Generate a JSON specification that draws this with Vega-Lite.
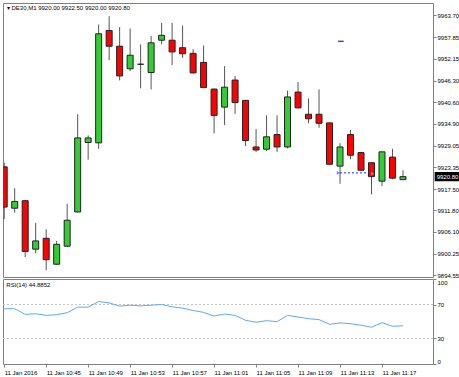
{
  "$schema": "https://vega.github.io/schema/vega-lite/v6.json",
  "padding": {"left": 1, "top": 2, "right": 0, "bottom": 0},
  "background": "#ffffff",
  "spacing": 2,
  "bounds": "flush",
  "config": {
    "view": {"stroke": "#808080", "strokeWidth": 1},
    "axis": {"labelFont": "Liberation Sans", "labelFontSize": 6, "labelColor": "#000000", "tickColor": "#808080", "tickSize": 3, "labelPadding": 1, "domain": false, "grid": false, "labelOverlap": false},
    "text": {"font": "Liberation Sans"}
  },
  "datasets": {
    "candles": [
      {"i": 0, "o": 9923.4, "h": 9924.5, "l": 9909.5, "c": 9912.7},
      {"i": 1, "o": 9912.4, "h": 9917.7, "l": 9911.2, "c": 9914.2},
      {"i": 2, "o": 9914.4, "h": 9914.5, "l": 9899.4, "c": 9900.9},
      {"i": 3, "o": 9901.5, "h": 9908.5, "l": 9900.4, "c": 9903.7},
      {"i": 4, "o": 9904.4, "h": 9906.8, "l": 9895.9, "c": 9898.7},
      {"i": 5, "o": 9897.5, "h": 9903.7, "l": 9897.3, "c": 9902.8},
      {"i": 6, "o": 9902.3, "h": 9913.6, "l": 9902.1, "c": 9909.2},
      {"i": 7, "o": 9911.4, "h": 9937.4, "l": 9911.3, "c": 9931.1},
      {"i": 8, "o": 9929.9, "h": 9931.8, "l": 9925.3, "c": 9931.1},
      {"i": 9, "o": 9929.8, "h": 9961.3, "l": 9928.2, "c": 9958.8},
      {"i": 10, "o": 9959.7, "h": 9963.5, "l": 9951.8, "c": 9955.5},
      {"i": 11, "o": 9955.5, "h": 9960.6, "l": 9946.4, "c": 9947.6},
      {"i": 12, "o": 9949.5, "h": 9960.2, "l": 9948.9, "c": 9953.1},
      {"i": 13, "o": 9950.7, "h": 9956.0, "l": 9944.3, "c": 9950.7},
      {"i": 14, "o": 9948.5, "h": 9958.2, "l": 9944.0, "c": 9956.4},
      {"i": 15, "o": 9957.1, "h": 9961.7, "l": 9956.0, "c": 9958.4},
      {"i": 16, "o": 9957.1, "h": 9961.7, "l": 9950.5, "c": 9954.0},
      {"i": 17, "o": 9955.1, "h": 9961.0, "l": 9952.4, "c": 9953.5},
      {"i": 18, "o": 9953.6, "h": 9954.7, "l": 9948.3, "c": 9948.4},
      {"i": 19, "o": 9951.2, "h": 9955.7, "l": 9944.4, "c": 9944.5},
      {"i": 20, "o": 9944.1, "h": 9944.2, "l": 9932.3, "c": 9937.1},
      {"i": 21, "o": 9939.3, "h": 9950.2, "l": 9934.5, "c": 9944.6},
      {"i": 22, "o": 9946.5, "h": 9947.6, "l": 9937.5, "c": 9940.5},
      {"i": 23, "o": 9941.1, "h": 9941.2, "l": 9928.9, "c": 9930.4},
      {"i": 24, "o": 9928.7, "h": 9933.5, "l": 9927.4, "c": 9927.9},
      {"i": 25, "o": 9928.1, "h": 9937.1, "l": 9927.6, "c": 9931.4},
      {"i": 26, "o": 9932.0, "h": 9937.1, "l": 9927.4, "c": 9928.7},
      {"i": 27, "o": 9928.7, "h": 9943.7, "l": 9928.3, "c": 9942.0},
      {"i": 28, "o": 9943.3, "h": 9946.0, "l": 9939.0, "c": 9939.1},
      {"i": 29, "o": 9937.4, "h": 9941.6, "l": 9935.0, "c": 9936.2},
      {"i": 30, "o": 9937.4, "h": 9944.0, "l": 9933.8, "c": 9935.0},
      {"i": 31, "o": 9935.1, "h": 9935.2, "l": 9924.0, "c": 9924.1},
      {"i": 32, "o": 9923.6, "h": 9929.7, "l": 9918.9, "c": 9928.7},
      {"i": 33, "o": 9932.0, "h": 9933.2, "l": 9925.4, "c": 9926.5},
      {"i": 34, "o": 9927.2, "h": 9927.4, "l": 9922.4, "c": 9922.5},
      {"i": 35, "o": 9924.5, "h": 9924.6, "l": 9916.1, "c": 9920.8},
      {"i": 36, "o": 9919.6, "h": 9927.4, "l": 9918.3, "c": 9927.4},
      {"i": 37, "o": 9926.0, "h": 9928.2, "l": 9920.1, "c": 9920.4},
      {"i": 38, "o": 9920.0, "h": 9922.5, "l": 9920.0, "c": 9920.8}
    ],
    "rsi": [
      {"i": 0, "v": 65.0}, {"i": 1, "v": 65.0}, {"i": 2, "v": 58.4}, {"i": 3, "v": 59.1},
      {"i": 4, "v": 57.2}, {"i": 5, "v": 58.0}, {"i": 6, "v": 60.3}, {"i": 7, "v": 66.9},
      {"i": 8, "v": 66.9}, {"i": 9, "v": 73.5}, {"i": 10, "v": 71.9}, {"i": 11, "v": 68.1},
      {"i": 12, "v": 69.2}, {"i": 13, "v": 68.4}, {"i": 14, "v": 69.2}, {"i": 15, "v": 70.0},
      {"i": 16, "v": 67.3}, {"i": 17, "v": 65.7}, {"i": 18, "v": 63.0}, {"i": 19, "v": 60.7},
      {"i": 20, "v": 56.4}, {"i": 21, "v": 58.8}, {"i": 22, "v": 57.2}, {"i": 23, "v": 51.4},
      {"i": 24, "v": 49.1}, {"i": 25, "v": 51.0}, {"i": 26, "v": 49.8}, {"i": 27, "v": 57.2},
      {"i": 28, "v": 55.3}, {"i": 29, "v": 53.3}, {"i": 30, "v": 52.2}, {"i": 31, "v": 46.7},
      {"i": 32, "v": 48.3}, {"i": 33, "v": 47.5}, {"i": 34, "v": 45.6}, {"i": 35, "v": 43.3},
      {"i": 36, "v": 48.7}, {"i": 37, "v": 44.4}, {"i": 38, "v": 44.9}
    ],
    "one": [{"n": 1}]
  },
  "vconcat": [
    {
      "width": 430,
      "height": 274,
      "layer": [
        {
          "data": {"name": "candles"},
          "mark": {"type": "rule", "color": "#555555", "strokeWidth": 1, "clip": true},
          "encoding": {
            "x": {"field": "i", "type": "quantitative", "scale": {"domain": [-0.114, 40.86], "nice": false, "zero": false, "padding": 0}, "axis": null},
            "y": {"field": "l", "type": "quantitative", "scale": {"domain": [9894.1, 9967.0], "nice": false, "zero": false, "padding": 0},
                  "axis": {"orient": "right", "title": null, "labelOverlap": false, "tickCount": 30, "values": [9963.70, 9957.85, 9952.15, 9946.30, 9940.60, 9934.90, 9929.05, 9923.35, 9917.50, 9911.80, 9906.10, 9900.25, 9894.55], "format": ".2f"}},
            "y2": {"field": "h"}
          }
        },
        {
          "data": {"name": "candles"},
          "mark": {"type": "bar", "size": 6, "stroke": "#222222", "strokeWidth": 1, "clip": true},
          "encoding": {
            "x": {"field": "i", "type": "quantitative"},
            "y": {"field": "o", "type": "quantitative"},
            "y2": {"field": "c"},
            "color": {"condition": [{"test": "datum.c > datum.o", "value": "#32CD32"}, {"test": "datum.c == datum.o", "value": "#000000"}], "value": "#FF0000"}
          }
        },
        {
          "data": {"values": [{"a": 32, "b": 35, "p": 9921.8}]},
          "mark": {"type": "rule", "color": "#2222ff", "strokeDash": [2, 2], "strokeWidth": 1},
          "encoding": {"x": {"field": "a", "type": "quantitative"}, "x2": {"field": "b"}, "y": {"field": "p", "type": "quantitative"}}
        },
        {
          "data": {"values": [{"a": 31.8, "b": 32.35, "p": 9956.8}]},
          "mark": {"type": "rule", "color": "#4444ff", "strokeWidth": 1.5},
          "encoding": {"x": {"field": "a", "type": "quantitative"}, "x2": {"field": "b"}, "y": {"field": "p", "type": "quantitative"}}
        },
        {
          "data": {"values": [{"a": 31.85, "p": 9921.8, "k": "open"}, {"a": 35.1, "p": 9921.6, "k": "close"}]},
          "mark": {"type": "point", "filled": true, "size": 14, "shape": "triangle-right"},
          "encoding": {"x": {"field": "a", "type": "quantitative"}, "y": {"field": "p", "type": "quantitative"},
                       "color": {"field": "k", "type": "nominal", "scale": {"domain": ["open", "close"], "range": ["#3050ff", "#f0c040"]}, "legend": null}}
        },
        {
          "data": {"name": "one"},
          "mark": {"type": "rect", "color": "#000000"},
          "encoding": {"x": {"datum": 41.02}, "x2": {"datum": 43.5}, "y": {"datum": 9919.55}, "y2": {"datum": 9922.05}}
        },
        {
          "data": {"name": "one"},
          "mark": {"type": "text", "color": "#ffffff", "fontSize": 6, "align": "left", "baseline": "middle", "dx": 2},
          "encoding": {"x": {"datum": 41.02}, "y": {"datum": 9920.8}, "text": {"value": "9920.80"}}
        },
        {
          "data": {"name": "one"},
          "mark": {"type": "text", "color": "#000000", "fontSize": 6, "align": "left", "baseline": "middle"},
          "encoding": {"x": {"datum": 0.25}, "y": {"datum": 9965.6}, "text": {"value": "▾  DE30,M1  9920.00 9922.50 9920.00 9920.80"}}
        }
      ]
    },
    {
      "width": 430,
      "height": 85,
      "layer": [
        {
          "data": {"values": [{"lv": 70}, {"lv": 30}]},
          "mark": {"type": "rule", "color": "#c4c4c4", "strokeDash": [2, 2], "strokeWidth": 1},
          "encoding": {"y": {"field": "lv", "type": "quantitative", "scale": {"domain": [0, 100], "nice": false},
                  "axis": {"orient": "right", "title": null, "labelOverlap": false, "tickCount": 20, "values": [0, 30, 70, 100], "labelFlush": true}}}
        },
        {
          "data": {"name": "rsi"},
          "mark": {"type": "line", "color": "#5aaaf5", "strokeWidth": 1},
          "encoding": {
            "x": {"field": "i", "type": "quantitative", "scale": {"domain": [-0.114, 40.86], "nice": false, "zero": false, "padding": 0},
                  "axis": {"orient": "bottom", "title": null, "labelOverlap": false, "labelFlush": false, "tickCount": 30, "values": [0, 4, 8, 12, 16, 20, 24, 28, 32, 36], "labelAlign": "left", "labelPadding": 2,
                           "labelExpr": "datum.value == 0 ? '11 Jan 2016' : '11 Jan ' + timeFormat(datetime(2016, 0, 11, 10, 41 + datum.value), '%H:%M')"}},
            "y": {"field": "v", "type": "quantitative", "scale": {"domain": [0, 100], "nice": false},
                  "axis": {"orient": "right", "title": null, "labelOverlap": false, "tickCount": 20, "values": [0, 30, 70, 100], "labelFlush": true}}
          }
        },
        {
          "data": {"name": "one"},
          "mark": {"type": "text", "color": "#000000", "fontSize": 6, "align": "left", "baseline": "middle"},
          "encoding": {"x": {"datum": 0.2}, "y": {"datum": 93.5}, "text": {"value": "RSI(14) 44.8852"}}
        }
      ]
    }
  ]
}
